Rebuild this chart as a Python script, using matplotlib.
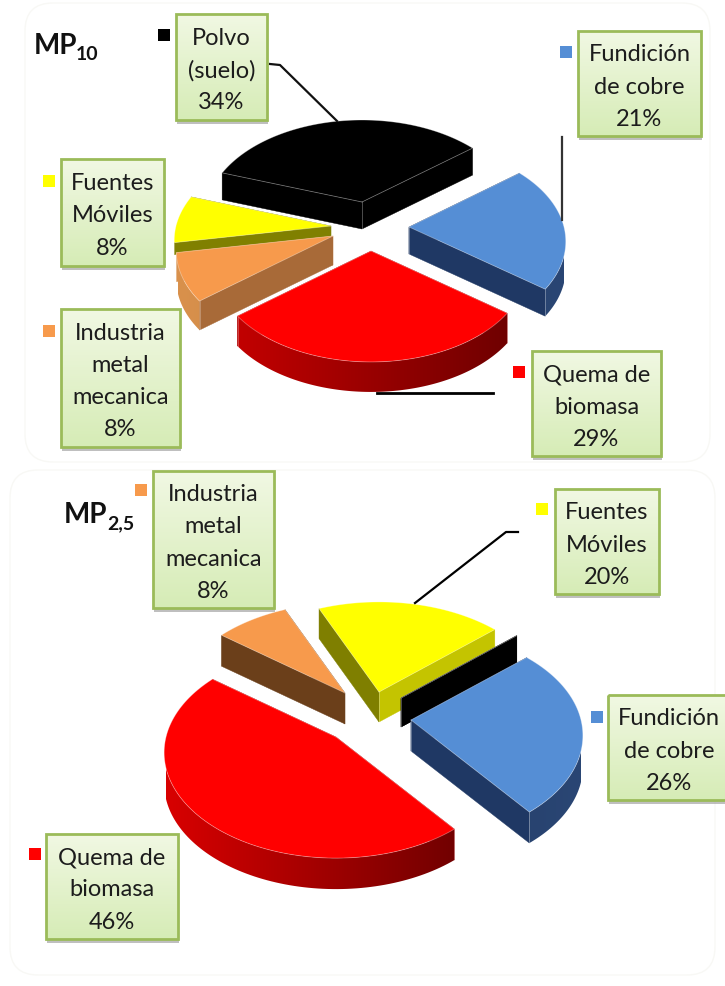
#!/usr/bin/env python
# -*- coding: utf-8 -*-
import matplotlib
matplotlib.use('agg')
import numpy as np
import matplotlib.pyplot as plt
from matplotlib.colors import to_rgb
from matplotlib.patches import FancyBboxPatch, Rectangle, Polygon

# ---- datos ----
categorias_10 = ['Polvo (suelo)', 'Fundición de cobre', 'Quema de biomasa',
                 'Industria metal mecanica', 'Fuentes Móviles']
valores_10 = [34, 21, 29, 8, 8]

categorias_25 = ['Fuentes Móviles', 'Polvo (suelo)', 'Fundición de cobre',
                 'Quema de biomasa', 'Industria metal mecanica']
valores_25 = [20, 0, 26, 46, 8]

# ---- estilos ----
COLOR = {'Polvo (suelo)': '#000000', 'Fundición de cobre': '#558ed5',
         'Quema de biomasa': '#ff0000', 'Industria metal mecanica': '#f79a4c',
         'Fuentes Móviles': '#ffff00'}

# (pared inicio, pared fin, arco izq, arco der), grosor
PARED_10 = {'Polvo (suelo)': (('#000000', '#000000', '#000000', '#000000'), 27),
            'Fundición de cobre': (('#1f3864', '#1f3864', '#1c3258', '#2a4674'), 27),
            'Quema de biomasa': (('#a00000', '#a00000', '#c80000', '#6a0000'), 30),
            'Industria metal mecanica': (('#a86a38', '#d9914c', '#d9914c', '#b0703a'), 29),
            'Fuentes Móviles': (('#808000', '#808000', '#808000', '#808000'), 12)}
PARED_25 = {'Polvo (suelo)': (('#000000', '#000000', '#000000', '#000000'), 29),
            'Fundición de cobre': (('#1f3864', '#1f3864', '#1c3258', '#2a4674'), 31),
            'Quema de biomasa': (('#a00000', '#a00000', '#d80000', '#600000'), 31),
            'Industria metal mecanica': (('#6b3f1a', '#6b3f1a', '#6b3f1a', '#6b3f1a'), 31),
            'Fuentes Móviles': (('#7f7f00', '#c4c400', '#c4c400', '#c4c400'), 30)}

# vertice de cada porcion en pixeles
VERT_10 = {'Polvo (suelo)': (362, 202), 'Fundición de cobre': (409, 227),
           'Quema de biomasa': (371, 251), 'Industria metal mecanica': (333, 236),
           'Fuentes Móviles': (331, 226)}
VERT_25 = {'Polvo (suelo)': (401, 698), 'Fundición de cobre': (411, 720),
           'Quema de biomasa': (336, 737), 'Industria metal mecanica': (345, 693),
           'Fuentes Móviles': (379, 692)}


def proyecta(ang, A, B, k):
    u = np.cos(np.radians(ang))
    v = np.sin(np.radians(ang))
    d = 1 + k * v
    return A * u / d, -B * v / d


def porcion(ax, nombre, a0, a1, vert, pared, A, B, k):
    (c_ini, c_fin, c_izq, c_der), h = pared
    cx, cy = vert
    angs = np.linspace(a0, a1, 120)
    xa, ya = proyecta(angs, A, B, k)
    xa = xa + cx
    ya = ya + cy

    # paredes rectas (primero la del final, la de inicio queda encima)
    for x, y, c in [(xa[-1], ya[-1], c_fin), (xa[0], ya[0], c_ini)]:
        ax.fill([cx, x, x, cx], [cy, y, y + h, cy + h], color=c, lw=0.3, zorder=2)

    # pared curva con degradado, solo la parte de delante
    delante = np.sin(np.radians(angs)) < 0.02
    if delante.any():
        xd, yd = xa[delante], ya[delante]
        cl, cr = np.array(to_rgb(c_izq)), np.array(to_rgb(c_der))
        t = np.linspace(0, 1, 128).reshape(1, -1, 1)
        img = cl + (cr - cl) * t
        im = ax.imshow(img, extent=(cx - A, cx + A, yd.max() + h + 2, yd.min() - 2),
                       aspect='auto', interpolation='bilinear', zorder=2)
        poli = Polygon(np.c_[np.r_[xd, xd[::-1]], np.r_[yd, yd[::-1] + h]],
                       transform=ax.transData)
        im.set_clip_path(poli)
        for x, y in [(xd[0], yd[0]), (xd[-1], yd[-1])]:
            ax.plot([x, x], [y, y + h], color='white', alpha=0.3, lw=0.6, zorder=2)

    # cara de arriba
    xs = np.r_[cx, xa]
    ys = np.r_[cy, ya]
    ax.fill(xs, ys, color=COLOR[nombre], lw=0, zorder=2)
    ax.plot(np.r_[xs, cx], np.r_[ys, cy], color='white', alpha=0.35, lw=0.6, zorder=2)
    # arista del vertice: tapada si la porcion mira hacia delante
    baja = (a0 - (-90)) % 360 < (a0 - a1)
    if not baja:
        ax.plot([cx, cx], [cy, cy + h], color='white', alpha=0.35, lw=0.6, zorder=2)


def pastel(ax, categorias, valores, inicio, verts, paredes, A, B, k):
    a = inicio
    tramos = []
    for nom, val in zip(categorias, valores):
        b = a - val / float(sum(valores)) * 360.0
        tramos.append((np.sin(np.radians((a + b) / 2.0)), nom, a, b))
        a = b
    # de atras hacia delante
    for s, nom, a0, a1 in sorted(tramos, key=lambda t: -t[0]):
        porcion(ax, nom, a0, a1, verts[nom], paredes[nom], A, B, k)


def caja(ax, x0, y0, x1, y1, texto, nombre, kx, ky):
    ax.add_patch(Rectangle((x0 + 1, y0 + 4), x1 - x0, y1 - y0, fc='#8c8c8c', alpha=0.55, lw=0, zorder=4))
    grad = np.linspace(0, 1, 64).reshape(-1, 1)
    ini, fin = np.array(to_rgb('#f1f8e3')), np.array(to_rgb('#d6ecb6'))
    img = ini + (fin - ini) * grad[:, :, None]
    ax.imshow(img, extent=(x0, x1, y1, y0), aspect='auto', zorder=5)
    ax.add_patch(Rectangle((x0, y0), x1 - x0, y1 - y0, fc='none', ec='#9bbb59', lw=2, zorder=6))
    ax.text((x0 + x1) / 2.0, (y0 + y1) / 2.0 + 3.5, texto, ha='center', va='center', fontsize=17,
            family='Lato', color='#1c1c1c', linespacing=1.65, zorder=7)
    ax.add_patch(Rectangle((kx, ky), 12, 12, fc=COLOR[nombre], lw=0, zorder=7))


plt.rcParams['font.family'] = ['Lato', 'DejaVu Sans']
fig = plt.figure(figsize=(7.25, 9.86), dpi=100)
ax = fig.add_axes([0, 0, 1, 1])

# marcos tenues de fondo
for x, y, w, h in [(25, 3, 685, 459), (10, 470, 705, 505)]:
    ax.add_patch(FancyBboxPatch((x + 20, y + 20), w - 40, h - 40, boxstyle='round,pad=20,rounding_size=28',
                                fc='none', ec='#f8f8f5', lw=1, zorder=0))

pastel(ax, categorias_10, valores_10, 161.1, VERT_10, PARED_10, 155, 94.3, 0.15)
pastel(ax, categorias_25, valores_25, 113.6, VERT_25, PARED_25, 170, 103.3, 0.147)

# lineas guia
ax.plot([270, 280, 337], [64, 65, 121], color='#111111', lw=1.6, zorder=3)
ax.plot([562, 562], [137, 220], color='#333333', lw=1.6, zorder=3)
ax.plot([377, 493], [393, 393], color='#000000', lw=2, zorder=3)
ax.plot([518, 506, 415], [532, 532, 603], color='#000000', lw=1.6, zorder=3)

# cajas MP10
caja(ax, 176, 14, 267, 120, 'Polvo\n(suelo)\n34%', 'Polvo (suelo)', 158, 29)
caja(ax, 578, 31, 701, 136, 'Fundición\nde cobre\n21%', 'Fundición de cobre', 560, 46)
caja(ax, 61, 159, 164, 266, 'Fuentes\nMóviles\n8%', 'Fuentes Móviles', 43, 175)
caja(ax, 61, 309, 180, 447, 'Industria\nmetal\nmecanica\n8%', 'Industria metal mecanica', 43, 325)
caja(ax, 532, 351, 661, 456, 'Quema de\nbiomasa\n29%', 'Quema de biomasa', 513, 366)

# cajas MP2,5
caja(ax, 153, 471, 274, 608, 'Industria\nmetal\nmecanica\n8%', 'Industria metal mecanica', 135, 484)
caja(ax, 555, 489, 659, 594, 'Fuentes\nMóviles\n20%', 'Fuentes Móviles', 536, 503)
caja(ax, 608, 695, 730, 800, 'Fundición\nde cobre\n26%', 'Fundición de cobre', 591, 711)
caja(ax, 46, 834, 178, 939, 'Quema de\nbiomasa\n46%', 'Quema de biomasa', 29, 848)

# titulos
ax.text(34, 46, 'MP', fontsize=20, fontweight='bold', family='Lato', va='center', color='#111111')
ax.text(76, 55, '10', fontsize=14, fontweight='bold', family='Lato', va='center', color='#111111')
ax.text(64, 515, 'MP', fontsize=20, fontweight='bold', family='Lato', va='center', color='#111111')
ax.text(107, 524, '2,5', fontsize=14, fontweight='bold', family='Lato', va='center', color='#111111')

ax.set_xlim(0, 725)
ax.set_ylim(986, 0)
ax.axis('off')

plt.savefig('out.png', dpi=100)
plt.close('all')
